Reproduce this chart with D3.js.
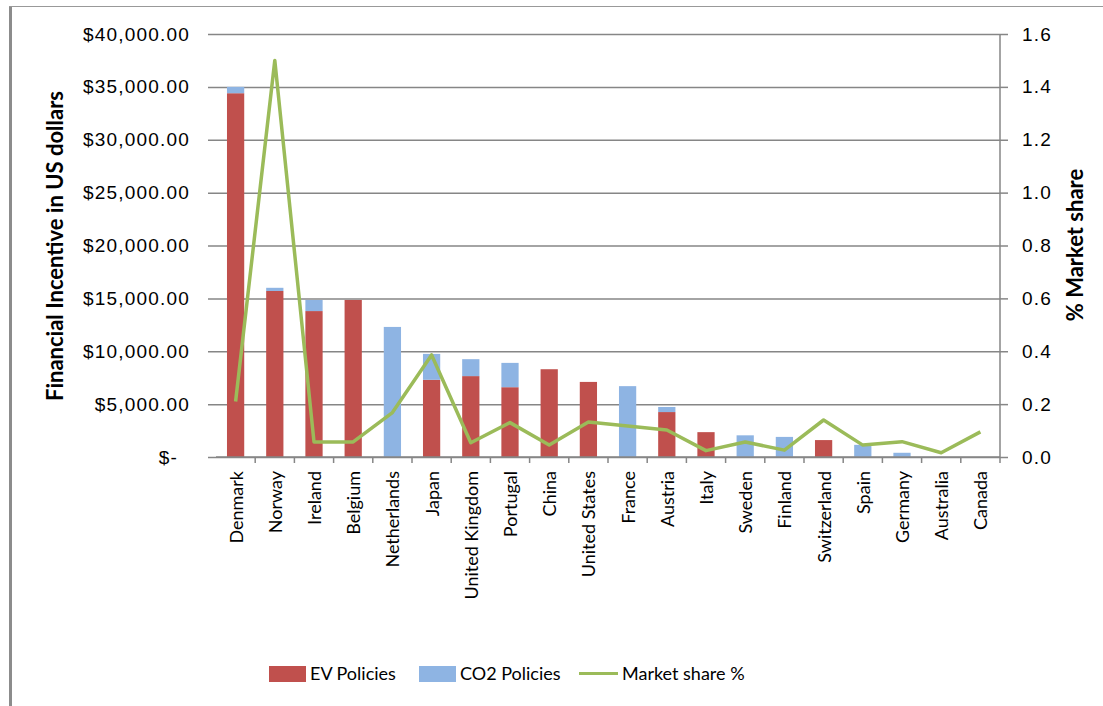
<!DOCTYPE html>
<html>
<head>
<meta charset="utf-8">
<script src="https://cdn.jsdelivr.net/npm/d3@7"></script>
<style>
  body { margin: 0; background: #fff; }
  svg { display: block; font-family: Lato, "Open Sans", sans-serif; }
</style>
</head>
<body>
<svg id="chart" width="1103" height="706"></svg>
<script>
const countries = ['Denmark','Norway','Ireland','Belgium','Netherlands','Japan','United Kingdom','Portugal','China','United States','France','Austria','Italy','Sweden','Finland','Switzerland','Spain','Germany','Australia','Canada'];
const evPolicies = [34400, 15700, 13800, 14850, 0, 7300, 7650, 6600, 8300, 7100, 0, 4250, 2350, 0, 0, 1600, 0, 0, 0, 0];
const co2Policies = [600, 300, 1050, 0, 12300, 2450, 1600, 2300, 0, 0, 6700, 480, 0, 2050, 1900, 0, 1150, 400, 0, 0];
const marketShare = [0.21, 1.5, 0.057, 0.057, 0.168, 0.386, 0.054, 0.13, 0.045, 0.132, 0.117, 0.102, 0.024, 0.057, 0.026, 0.14, 0.045, 0.058, 0.016, 0.095];
const leftTicks = [0, 5000, 10000, 15000, 20000, 25000, 30000, 35000, 40000];
const rightTicks = [0, 0.2, 0.4, 0.6, 0.8, 1.0, 1.2, 1.4, 1.6];

const red = '#C0504D', blue = '#8EB4E3', green = '#9BBB59', grid = '#868686';

const svg = d3.select('#chart');

// chart border (left + top only, like the screenshot)
svg.append('line').attr('x1', 10.5).attr('x2', 10.5).attr('y1', 6).attr('y2', 706)
  .attr('stroke', '#8c8c8c').attr('stroke-width', 3);
svg.append('line').attr('x1', 9).attr('x2', 1103).attr('y1', 6.5).attr('y2', 6.5)
  .attr('stroke', '#999').attr('stroke-width', 1);

let x = d3.scaleBand().domain(countries).range([216, 1000]).padding(0);
let yL = d3.scaleLinear().domain([0, 40000]).range([457, 34]);
let yR = d3.scaleLinear().domain([0, 1.6]).range([457, 34]);

// left axis with gridlines
let leftAxis = d3.axisLeft(yL).tickValues(leftTicks)
  .tickSize(-792).tickPadding(18)
  .tickFormat(d => d === 0 ? '$-' : d3.format('$,.2f')(d));
let gL = svg.append('g').attr('transform', 'translate(208,0)').call(leftAxis);
gL.select('.domain').remove();
gL.selectAll('.tick line').attr('stroke', grid).attr('stroke-width', 1.5);
gL.selectAll('.tick text').attr('font-size', 19).attr('letter-spacing', 1.2).attr('fill', '#000');
gL.selectAll('.tick').filter(d => d === 0).select('text').attr('x', -30);

// bars
let bw = x.bandwidth() * 0.44;
let bars = svg.append('g');
bars.selectAll('rect.ev').data(countries).enter().append('rect')
  .attr('x', d => x(d) + (x.bandwidth() - bw) / 2)
  .attr('width', bw)
  .attr('y', (d, i) => yL(evPolicies[i]))
  .attr('height', (d, i) => yL(0) - yL(evPolicies[i]))
  .attr('fill', red);
bars.selectAll('rect.co2').data(countries).enter().append('rect')
  .attr('x', d => x(d) + (x.bandwidth() - bw) / 2)
  .attr('width', bw)
  .attr('y', (d, i) => yL(evPolicies[i] + co2Policies[i]))
  .attr('height', (d, i) => yL(evPolicies[i]) - yL(evPolicies[i] + co2Policies[i]))
  .attr('fill', blue);

// bottom axis line and boundary ticks
svg.append('line').attr('x1', 216).attr('x2', 1000).attr('y1', 457).attr('y2', 457)
  .attr('stroke', grid).attr('stroke-width', 1.5);
svg.append('g').selectAll('line').data(countries.slice(1)).enter().append('line')
  .attr('x1', d => x(d)).attr('x2', d => x(d))
  .attr('y1', 457).attr('y2', 463)
  .attr('stroke', grid).attr('stroke-width', 1.5);

// category labels
svg.append('g').selectAll('text').data(countries).enter().append('text')
  .attr('transform', d => 'translate(' + (x(d) + x.bandwidth() / 2 + 7) + ',471) rotate(-90)')
  .attr('text-anchor', 'end')
  .attr('font-size', 18)
  .text(d => d);

// right axis
let rightAxis = d3.axisRight(yR).tickValues(rightTicks)
  .tickSize(8).tickSizeOuter(0).tickPadding(14)
  .tickFormat(d3.format('.1f'));
let gR = svg.append('g').attr('transform', 'translate(1000,0)').call(rightAxis);
gR.select('.domain').attr('stroke', grid).attr('stroke-width', 1.5)
  .attr('d', 'M0,34V463');
gR.selectAll('.tick line').attr('stroke', grid).attr('stroke-width', 1.5);
gR.selectAll('.tick text').attr('font-size', 19).attr('letter-spacing', 1.2).attr('fill', '#000');

// market share line
let line = d3.line()
  .x((d, i) => x(countries[i]) + x.bandwidth() / 2)
  .y(d => yR(d));
svg.append('path').datum(marketShare)
  .attr('d', line)
  .attr('fill', 'none')
  .attr('stroke', green)
  .attr('stroke-width', 3.5)
  .attr('stroke-linejoin', 'round');

// axis titles
svg.append('text')
  .attr('transform', 'translate(63,246) rotate(-90)')
  .attr('text-anchor', 'middle')
  .attr('font-size', 22).attr('font-weight', 'bold')
  .text('Financial Incentive in US dollars');
svg.append('text')
  .attr('transform', 'translate(1083,245) rotate(-90)')
  .attr('text-anchor', 'middle')
  .attr('font-size', 22).attr('font-weight', 'bold')
  .text('% Market share');

// legend
let legend = svg.append('g');
legend.append('rect').attr('x', 269).attr('y', 666).attr('width', 37).attr('height', 16).attr('fill', red);
legend.append('text').attr('x', 310).attr('y', 680).attr('font-size', 18).text('EV Policies');
legend.append('rect').attr('x', 419).attr('y', 666).attr('width', 37).attr('height', 16).attr('fill', blue);
legend.append('text').attr('x', 460).attr('y', 680).attr('font-size', 18).text('CO2 Policies');
legend.append('line').attr('x1', 579).attr('x2', 618).attr('y1', 673.5).attr('y2', 673.5)
  .attr('stroke', green).attr('stroke-width', 3);
legend.append('text').attr('x', 622).attr('y', 680).attr('font-size', 18).text('Market share %');
</script>
</body>
</html>
